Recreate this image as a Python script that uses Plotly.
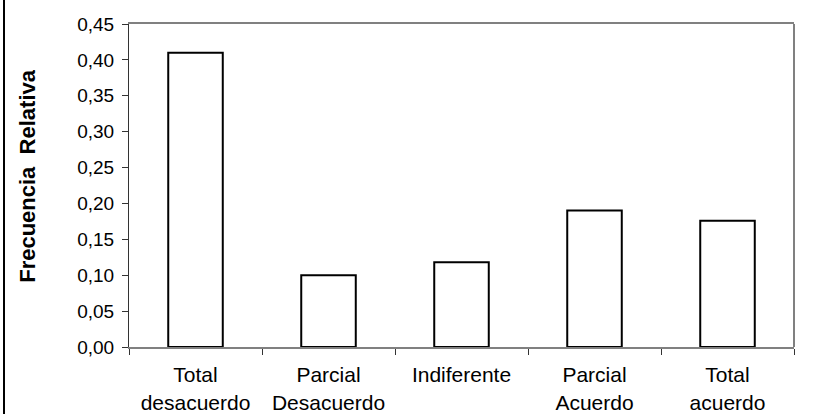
import plotly.graph_objects as go

# Categories and relative frequencies
categorias = ["Total<br>desacuerdo", "Parcial<br>Desacuerdo", "Indiferente",
              "Parcial<br>Acuerdo", "Total<br>acuerdo"]
frecuencias = [0.41, 0.10, 0.118, 0.19, 0.176]
y_ticks = [0.00, 0.05, 0.10, 0.15, 0.20, 0.25, 0.30, 0.35, 0.40, 0.45]

fig = go.Figure()
fig.add_trace(go.Bar(
    x=categorias,
    y=frecuencias,
    marker=dict(color="white", line=dict(color="black", width=2)),
    width=0.41,
    showlegend=False,
))

fig.update_xaxes(
    showline=True, linecolor="#808080", linewidth=2, mirror=True,
    ticks="outside", tickson="boundaries", ticklen=6, tickcolor="#333333",
    tickfont=dict(size=21, color="black"), ticklabelstandoff=8,
    showgrid=False, automargin=False,
)
fig.update_yaxes(
    range=[0, 0.45], tickvals=y_ticks, tickformat=".2f",
    showline=True, linecolor="#333333", linewidth=1,
    ticks="outside", ticklen=6, tickcolor="#333333",
    tickfont=dict(size=19, color="black"), ticklabelstandoff=4,
    showgrid=False, zeroline=False, automargin=False,
)

fig.add_shape(type="line", xref="paper", yref="paper", x0=1, x1=1, y0=0, y1=1,
              line=dict(color="#808080", width=2))
# outer chart frame on the left edge
fig.add_shape(type="line", xref="paper", yref="paper",
              x0=-125 / 665, x1=-125 / 665, y0=-0.3, y1=1.2,
              line=dict(color="black", width=2))

fig.add_annotation(
    text="<b>Frecuencia  Relativa</b>", textangle=-90,
    xref="paper", yref="paper", x=(28 - 129) / 665, y=0.53,
    xanchor="center", yanchor="middle",
    showarrow=False, font=dict(size=22, color="black"),
)

fig.update_layout(
    width=814, height=414,
    margin=dict(l=129, r=20, t=24, b=67),
    paper_bgcolor="white", plot_bgcolor="white",
    separators=", ",
    font=dict(family="Liberation Sans, Arial, sans-serif", color="black"),
    bargap=0.59,
)

fig.write_html("out.html", config={"displayModeBar": False},
               post_script="document.body.style.margin='0px';")
